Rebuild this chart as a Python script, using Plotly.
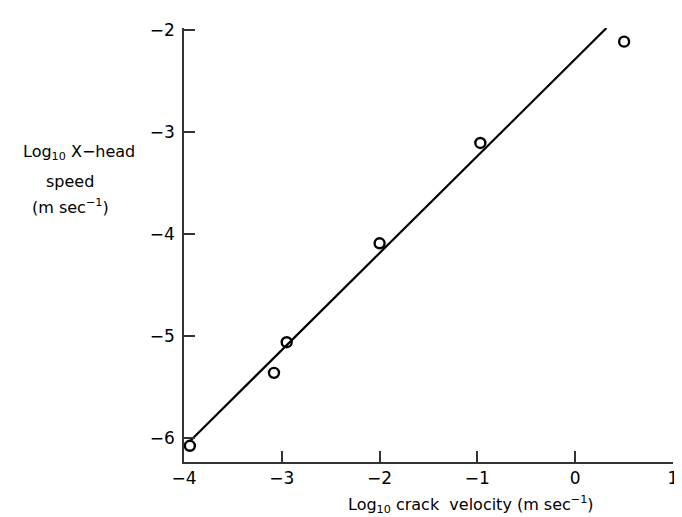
import plotly.graph_objects as go

# Data
crack_velocity_log = [-3.94, -3.08, -2.95, -2.00, -0.97, 0.50]
xhead_speed_log = [-6.075, -5.36, -5.06, -4.09, -3.107, -2.114]

fit_x = [-3.94, 0.32]
fit_y = [-6.03, -1.98]

x_ticks = [-4, -3, -2, -1, 0, 1]
x_tick_text = ["\u22124", "\u22123", "\u22122", "\u22121", "0", "1"]
y_ticks = [-6, -5, -4, -3, -2]
y_tick_text = ["\u22126", "\u22125", "\u22124", "\u22123", "\u22122"]

FONT = "DejaVu Sans, Liberation Sans, sans-serif"

fig = go.Figure()
fig.add_trace(go.Scatter(x=fit_x, y=fit_y, mode="lines",
                         line=dict(color="black", width=2.2), showlegend=False))
fig.add_trace(go.Scatter(x=crack_velocity_log, y=xhead_speed_log, mode="markers",
                         marker=dict(symbol="circle-open", size=10, color="black",
                                     line=dict(color="black", width=2.4)),
                         showlegend=False))

axis_common = dict(showline=True, linecolor="#333", linewidth=1.5, ticks="inside",
                   ticklen=11, tickcolor="#333", tickwidth=1.5, showgrid=False,
                   zeroline=False, tickfont=dict(family=FONT, size=17, color="black"))

fig.update_xaxes(range=[-4, 1], tickvals=x_ticks, ticktext=x_tick_text, **axis_common)
fig.update_yaxes(range=[-6.234, -1.98], tickvals=y_ticks, ticktext=y_tick_text,
                 ticklabelstandoff=4, **axis_common)

# text positions given in figure pixels (x, y centre)
annotations = [
    dict(text="Log<sub>10</sub> X\u2212head", x=70, y=142),
    dict(text="speed", x=61, y=172),
    dict(text="(m sec<sup>\u22121</sup>)", x=62, y=197),
    dict(text="Log<sub>10</sub> crack  velocity (m sec<sup>\u22121</sup>)", x=465, y=497),
]

pl, pr, pt, pb = 176, 682 - 13, 17, 517 - 63
for a in annotations:
    fig.add_annotation(text=a["text"],
                       x=(a["x"] - pl) / (pr - pl), y=(pb - a["y"]) / (pb - pt),
                       xref="paper", yref="paper", showarrow=False,
                       xanchor="center", yanchor="middle",
                       font=dict(family=FONT, size=16, color="black"))

fig.update_layout(
    width=682, height=517,
    margin=dict(l=pl, r=682 - pr, t=pt, b=517 - pb),
    paper_bgcolor="white", plot_bgcolor="white",
    font=dict(family=FONT, color="black"),
)

fig.write_html("out.html")
